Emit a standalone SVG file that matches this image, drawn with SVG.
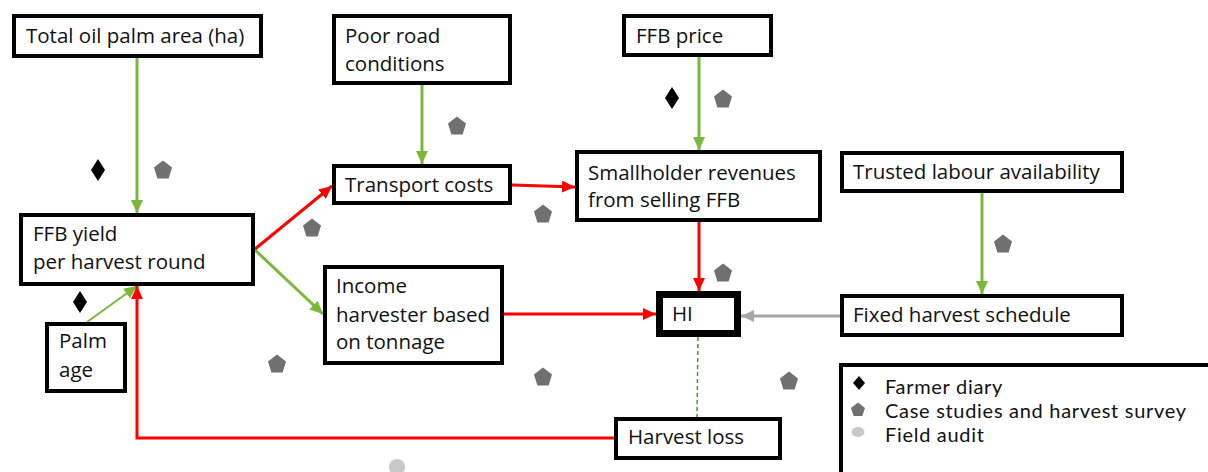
<svg xmlns="http://www.w3.org/2000/svg" width="1208" height="472" viewBox="0 0 1208 472">
<style>
.box{fill:#fff;stroke:#000;stroke-width:4}
.hi{fill:#fff;stroke:#000;stroke-width:7}
.t{font-family:"Open Sans","Noto Sans","DejaVu Sans",sans-serif;font-size:20.5px;fill:#111}
.lt{font-family:Lato,"Open Sans",sans-serif;font-size:20px;letter-spacing:0.7px;fill:#111}
.g{stroke:#7ab83a;stroke-width:3;fill:none}
.r{stroke:#f00;stroke-width:3;fill:none}
.gr{stroke:#a6a6a6;stroke-width:3;fill:none}
.pent{fill:#707070}
.dia{fill:#000}
</style>
<defs>
<marker id="ag" markerUnits="userSpaceOnUse" markerWidth="14" markerHeight="12" refX="13" refY="6" orient="auto"><path d="M0,0 L13,6 L0,12 z" fill="#7ab83a"/></marker>
<marker id="ar" markerUnits="userSpaceOnUse" markerWidth="14" markerHeight="12" refX="13" refY="6" orient="auto"><path d="M0,0 L13,6 L0,12 z" fill="#f00"/></marker>
<marker id="agr" markerUnits="userSpaceOnUse" markerWidth="14" markerHeight="12" refX="13" refY="6" orient="auto"><path d="M0,0 L13,6 L0,12 z" fill="#a6a6a6"/></marker>
<path id="pg" d="M0,-9.5 L9,-2.6 L5.6,8.5 L-5.6,8.5 L-9,-2.6 z"/>
<path id="dm" d="M0,-11 L7,0 L0,11 L-7,0 z"/>
</defs>
<rect width="1208" height="472" fill="#fff"/>

<g id="connectors">
<line class="g" x1="137" y1="58" x2="137" y2="213" marker-end="url(#ag)"/>
<line class="g" x1="422" y1="85" x2="422" y2="164" marker-end="url(#ag)"/>
<line class="g" x1="699" y1="57" x2="699" y2="150" marker-end="url(#ag)"/>
<line class="g" x1="982" y1="193" x2="982" y2="294" marker-end="url(#ag)"/>
<line class="g" x1="255" y1="250" x2="323" y2="314" marker-end="url(#ag)"/>
<line class="g" style="stroke-width:2" x1="87" y1="322" x2="137" y2="286" marker-end="url(#ag)"/>
<line class="r" x1="255" y1="249" x2="332" y2="186" marker-end="url(#ar)"/>
<line class="r" x1="512" y1="185" x2="575" y2="187" marker-end="url(#ar)"/>
<line class="r" x1="699" y1="222" x2="699" y2="291" marker-end="url(#ar)"/>
<line class="r" x1="504" y1="314" x2="656" y2="314" marker-end="url(#ar)"/>
<polyline class="r" points="614,438 137,438 137,286" marker-end="url(#ar)"/>
<line class="gr" x1="840" y1="316" x2="741" y2="316" marker-end="url(#agr)"/>
<line stroke="#4a9a2a" stroke-width="1.5" stroke-dasharray="4,3" x1="698" y1="337" x2="697" y2="417"/>
</g>

<g id="n-total"><rect class="box" x="14" y="16" width="247" height="40"/><text class="t" x="26" y="43">Total oil palm area (ha)</text></g>
<g id="n-road"><rect class="box" x="334" y="16" width="176" height="67"/><text class="t" x="345" y="43">Poor road</text><text class="t" x="345" y="71">conditions</text></g>
<g id="n-transport"><rect class="box" x="334" y="166" width="176" height="37"/><text class="t" x="345" y="192">Transport costs</text></g>
<g id="n-price"><rect class="box" x="624" y="16" width="147" height="39"/><text class="t" x="636" y="43">FFB price</text></g>
<g id="n-revenues"><rect class="box" x="577" y="152" width="243" height="68"/><text class="t" x="588" y="180">Smallholder revenues</text><text class="t" x="588" y="207">from selling FFB</text></g>
<g id="n-labour"><rect class="box" x="842" y="153" width="280" height="38"/><text class="t" x="853" y="179">Trusted labour availability</text></g>
<g id="n-schedule"><rect class="box" x="842" y="296" width="280" height="39"/><text class="t" x="853" y="322">Fixed harvest schedule</text></g>
<g id="n-yield"><rect class="box" x="21" y="215" width="232" height="69"/><text class="t" x="33" y="241">FFB yield</text><text class="t" x="33" y="269">per harvest round</text></g>
<g id="n-palmage"><rect class="box" x="47" y="324" width="78" height="67"/><text class="t" x="59" y="348">Palm</text><text class="t" x="59" y="377">age</text></g>
<g id="n-income"><rect class="box" x="325" y="267" width="177" height="96"/><text class="t" x="336" y="293">Income</text><text class="t" x="336" y="322">harvester based</text><text class="t" x="336" y="349">on tonnage</text></g>
<g id="n-hi"><rect class="hi" x="659.5" y="294.5" width="78" height="39"/><text class="t" x="672" y="321">HI</text></g>
<g id="n-loss"><rect class="box" x="616" y="419" width="164" height="39"/><text class="t" x="628" y="444">Harvest loss</text></g>

<g id="markers">
<use href="#dm" class="dia" x="98" y="170"/>
<use href="#pg" class="pent" x="163" y="170"/>
<use href="#pg" class="pent" x="457" y="126"/>
<use href="#pg" class="pent" x="543" y="214"/>
<use href="#dm" class="dia" x="672" y="98"/>
<use href="#pg" class="pent" x="723" y="99"/>
<use href="#pg" class="pent" x="1003" y="244"/>
<use href="#dm" class="dia" x="80" y="302"/>
<use href="#pg" class="pent" x="312" y="228"/>
<use href="#pg" class="pent" x="277" y="364"/>
<use href="#pg" class="pent" x="723" y="273"/>
<use href="#pg" class="pent" x="543" y="377"/>
<use href="#pg" class="pent" x="789" y="381"/>
<circle cx="397" cy="467" r="8" fill="#c8c8c8"/>
</g>

<g id="legend">
<rect class="box" x="841" y="365" width="400" height="200"/>
<path d="M859,376 L865,383 L859,390 L853,383 z" fill="#000"/>
<path d="M858,402.5 L865,408 L862.3,416 L853.7,416 L851,408 z" fill="#707070"/>
<ellipse cx="858" cy="432" rx="6.5" ry="5" fill="#c8c8c8"/>
<text class="lt" x="885" y="394">Farmer diary</text>
<text class="lt" x="885" y="418">Case studies and harvest survey</text>
<text class="lt" x="885" y="442">Field audit</text>
</g>
</svg>
